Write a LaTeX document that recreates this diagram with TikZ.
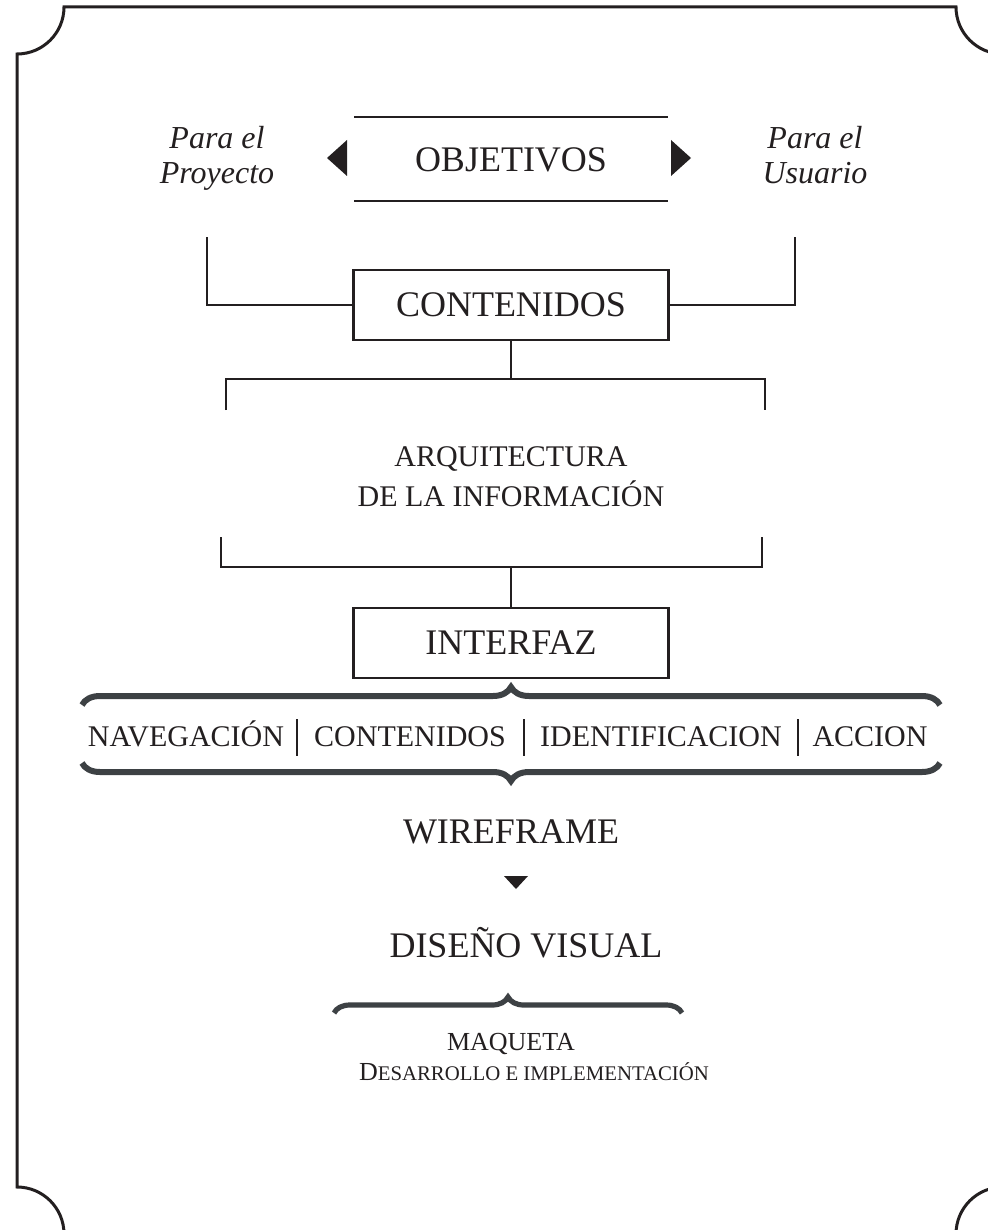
\documentclass[tikz,border=0pt]{standalone}
\usepackage{fontspec}
\setmainfont{Liberation Serif}
\usetikzlibrary{positioning,decorations.pathreplacing}
\definecolor{tinta}{HTML}{231F20}
\definecolor{llavegris}{HTML}{3D4144}
\newcommand{\versalita}[2]{{\fontsize{13}{15}\selectfont #1}{\fontsize{10.4}{12}\selectfont #2}}

\begin{document}
\begin{tikzpicture}[
    x=0.5pt, y=-0.5pt,
    every node/.style={text=tinta},
    titulo/.style={font=\fontsize{18}{22}\selectfont, inner sep=0pt},
    caja/.style={draw=tinta, line width=1.2pt, minimum width=157.5pt, minimum height=35pt, font=\fontsize{18}{22}\selectfont},
    nota/.style={font=\fontsize{16}{17.5}\selectfont\itshape, align=center, inner sep=0pt, anchor=base},
    menor/.style={font=\fontsize{15}{20}\selectfont, align=center, inner sep=0pt},
    fila/.style={font=\fontsize{15}{18}\selectfont, inner sep=0pt, anchor=base},
    linea/.style={draw=tinta, line width=1.2pt},
    separador/.style={draw=tinta, line width=1.4pt},
    llave/.style={draw=llavegris, line width=3pt, decorate, decoration={brace, amplitude=9pt}},
    marco/.style={draw=tinta, line width=1.5pt} % borde con esquinas cortadas
]
\useasboundingbox (0,0) rectangle (988,1230);
\clip (0,0) rectangle (988,1230);

% marco
\draw[marco] (64,7) -- (956,7) arc[start angle=180, end angle=90, radius=47]
    -- (1003,1187) arc[start angle=270, end angle=180, radius=47]
    -- (64,1234) arc[start angle=0, end angle=-90, radius=47]
    -- (17,54) arc[start angle=90, end angle=0, radius=47] -- cycle;

% objetivos
\node[titulo] (objetivos) at (511,160) {OBJETIVOS};
\draw[linea] (354,117) -- (668,117);
\draw[linea] (354,201) -- (668,201);
\fill[tinta] (347,140) -- (327,158) -- (347,176) -- cycle;
\fill[tinta] (671,140) -- (691,158) -- (671,176) -- cycle;
\node[nota] (proyecto) at (217,184) {Para el\\Proyecto};
\node[nota] (usuario) at (815,184) {Para el\\Usuario};

% contenidos
\node[caja] (contenidos) at (511,305) {CONTENIDOS};
\coordinate (pp) at (207,237);
\coordinate (pu) at (795,237);
\draw[linea] (contenidos.west) -| (pp);
\draw[linea] (contenidos.east) -| (pu);

% arquitectura
\coordinate (ai_arriba) at (511,379);
\draw[linea] (contenidos.south) -- (ai_arriba);
\draw[linea] (226,410) |- (765,379) -- (765,410);
\node[menor] (arquitectura) at (511,477) {ARQUITECTURA\\DE LA INFORMACIÓN};
\coordinate (ai_abajo) at (511,567);
\draw[linea] (221,537) |- (762,567) -- (762,537);

% interfaz
\node[caja] (interfaz) at (511,643) {INTERFAZ};
\draw[linea] (ai_abajo) -- (interfaz.north);
\draw[llave] (82,705) -- (940,705);
\node[fila] (navegacion) at (186,746) {NAVEGACIÓN};
\node[fila] (contenidos2) at (410,746) {CONTENIDOS};
\node[fila] (identificacion) at (661,746) {IDENTIFICACION};
\node[fila] (accion) at (870,746) {ACCION};
\foreach \sx in {297,524,798}
    \draw[separador] (\sx,719) -- (\sx,756);
\draw[llave] (940,763) -- (82,763);

% wireframe
\node[titulo] (wireframe) at (511,832) {WIREFRAME};
\fill[tinta] (504,876) -- (528,876) -- (516,889) -- cycle;
\node[titulo] (diseno) at (526,943) {DISEÑO VISUAL};
\draw[llave, line width=2.6pt, decoration={amplitude=8pt}] (334,1013) -- (682,1013);

% maqueta
\node[fila, font=\fontsize{13}{15}\selectfont] (maqueta) at (511,1050) {MAQUETA};
\node[inner sep=0pt, anchor=base] (desarrollo) at (534,1080) {\versalita{D}{ESARROLLO E IMPLEMENTACIÓN}};
\end{tikzpicture}
\end{document}
